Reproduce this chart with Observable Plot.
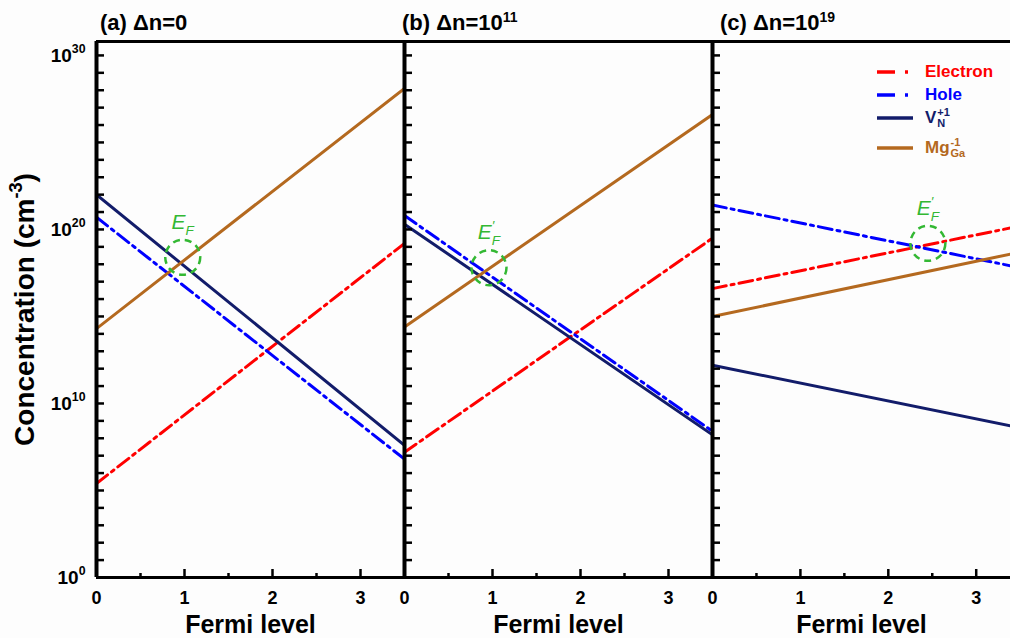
<!DOCTYPE html>
<html>
<head>
<meta charset="utf-8">
<script src="https://cdn.jsdelivr.net/npm/d3@7"></script>
<script src="https://cdn.jsdelivr.net/npm/@observablehq/plot@0.6"></script>
<style>
  body { margin: 0; background: #fdfdfd; font-family: "Liberation Sans", Arial, sans-serif; }
  #fig { position: relative; width: 1010px; height: 638px; overflow: hidden; }
  .panel { position: absolute; top: 0; }
  .title { position: absolute; top: 12px; font-size: 22px; line-height: 22px; font-weight: bold; color: #000; white-space: nowrap; }
  .title sup { font-size: 14px; vertical-align: 8px; line-height: 0; }
  .lrow { position: absolute; left: 877px; height: 20px; display: flex; align-items: center; font-size: 17px; line-height: 20px; font-weight: bold; white-space: nowrap; }
  .lrow svg { margin-right: 12px; }
  .stk { display: inline-flex; flex-direction: column; font-size: 11px; line-height: 11px; vertical-align: 7px; margin-left: 1px; }
</style>
</head>
<body>
<div id="fig"></div>
<script>
// ---------- data (log10 of concentration, cm^-3, at Fermi level 0 and 3.5) ----------
const fermi = [0, 3.5];
const electronA = [5.4, 19.2];
const holeA = [20.7, 6.8];
const vnA = [22.0, 7.6];
const mgA = [14.3, 28.1];
const electronB = [7.2, 19.5];
const holeB = [20.8, 8.4];
const vnB = [20.3, 8.2];
const mgB = [14.4, 26.6];
const electronC = [16.6, 20.2];
const holeC = [21.4, 17.8];
const vnC = [12.2, 8.6];
const mgC = [15.0, 18.7];
// E_F crossing marks: [Fermi level, log10 concentration]
const efA = [0.98, 18.4];
const efB = [0.96, 17.8];
const efC = [2.45, 19.2];
const efLabels = ["E_{F}", "E^{′}_{F}", "E^{′}_{F}"];
const panelTitles = ["(a) Δn=0", "(b) Δn=10<sup>11</sup>", "(c) Δn=10<sup>19</sup>"];
const xTicks = [0, 1, 2, 3];
const xMinorTicks = [0.5, 1.5, 2.5];
const yLabelExps = [0, 10, 20, 30];
const yTickExps = d3.range(0, 31);
const xMax = [3.5, 3.5, 3.39];
const yTopExp = 30.8;
const seriesNames = ["Electron", "Hole", "V<span class='stk'><span>+1</span><span>N</span></span>", "Mg<span class='stk'><span>-1</span><span>Ga</span></span>"];
const seriesColors = ["#ff0000", "#0000ff", "#121c6a", "#b4691f"];
const seriesDash = ["14,5,3,5", "14,5,3,5", null, null];
const green = "#33b833";

const panelData = [
  [electronA, holeA, vnA, mgA],
  [electronB, holeB, vnB, mgB],
  [electronC, holeC, vnC, mgC]
];
const efData = [efA, efB, efC];

// ---------- layout ----------
const layout = [
  {left: 0, width: 404, marginLeft: 96},
  {left: 404, width: 308, marginLeft: 0},
  {left: 712, width: 298, marginLeft: 0}
];
const H = 638, MT = 41, MB = 61;
const plotH = H - MT - MB;
const fig = document.getElementById("fig");

function richText(root) {
  root.querySelectorAll("text").forEach(el => {
    const t = el.textContent;
    if (!/[\^_]\{/.test(t)) return;
    while (el.firstChild) el.removeChild(el.firstChild);
    const re = /([\^_])\{([^}]*)\}|([^\^_]+)/g;
    let m, cur = 0, prev = null, prevScript = false;
    while ((m = re.exec(t))) {
      const ts = document.createElementNS("http://www.w3.org/2000/svg", "tspan");
      if (m[3]) {
        ts.textContent = m[3];
        if (cur) ts.setAttribute("dy", (-cur) + "em");
        cur = 0; prevScript = false;
      } else {
        const target = m[1] === "^" ? -0.45 : 0.28;
        ts.textContent = m[2];
        ts.setAttribute("font-size", "0.65em");
        ts.setAttribute("dy", ((target - cur) / 0.65) + "em");
        if (prevScript && prev) ts.setAttribute("dx", -prev.getComputedTextLength());
        cur = target; prevScript = true;
      }
      el.appendChild(ts); prev = ts;
    }
  });
}

panelData.forEach((series, p) => {
  const L = layout[p];
  const plotW = L.width - L.marginLeft;
  const marks = [];
  const yTop = 10 ** yTopExp;
  // frame lines
  marks.push(Plot.ruleY([1, yTop], {stroke: "black", strokeWidth: 3}));
  if (p < 2) marks.push(Plot.ruleX([xMax[p]], {stroke: "black", strokeWidth: 3}));
  // series
  series.forEach((vals, s) => {
    const rows = fermi.map((f, i) => ({x: f, y: 10 ** vals[i]}));
    marks.push(Plot.line(rows, {
      x: "x", y: "y", stroke: seriesColors[s], strokeWidth: 3,
      strokeDasharray: seriesDash[s], clip: true
    }));
  });
  // left axis and ticks
  marks.push(Plot.ruleX([0], {stroke: "black", strokeWidth: 4}));
  marks.push(Plot.tickY(yTickExps.map(e => 10 ** e), {y: d => d, insetRight: plotW - 8, stroke: "black", strokeWidth: 2.5}));
  marks.push(Plot.tickX(xTicks.filter(d => d > 0), {x: d => d, insetTop: plotH - 8, stroke: "black", strokeWidth: 2.5}));
  marks.push(Plot.tickX(xMinorTicks, {x: d => d, insetTop: plotH - 4, stroke: "black", strokeWidth: 2.5}));
  // x tick labels and title
  marks.push(Plot.text(xTicks, {x: d => d, frameAnchor: "bottom", lineAnchor: "middle", dy: 21, text: d => String(d), fontSize: 18, fontWeight: "bold", fill: "black"}));
  marks.push(Plot.text(["Fermi level"], {frameAnchor: "bottom", lineAnchor: "middle", textAnchor: "middle", dy: 47, text: d => d, fontSize: 25, fontWeight: "bold", fill: "black"}));
  // E_F mark
  const ef = efData[p];
  marks.push(Plot.dot([ef], {x: d => d[0], y: d => 10 ** d[1], r: 17.5, stroke: green, strokeWidth: 2.5, strokeDasharray: "7,5", fill: "none"}));
  marks.push(Plot.text([ef], {x: d => d[0], y: d => 10 ** d[1], dy: -35, text: () => efLabels[p], fontSize: 21, fontStyle: "italic", fill: green}));
  if (p === 0) {
    marks.push(Plot.text(yLabelExps, {y: d => 10 ** d, frameAnchor: "left", lineAnchor: "middle", dx: -11, textAnchor: "end", text: d => `10^{${d}}`, fontSize: 19, fontWeight: "bold", fill: "black"}));
    marks.push(Plot.text(["Concentration (cm^{-3})"], {frameAnchor: "left", textAnchor: "middle", lineAnchor: "middle", dx: -71, rotate: -90, text: d => d, fontSize: 28, fontWeight: "bold", fill: "black"}));
  }
  const chart = Plot.plot({
    width: L.width, height: H,
    marginLeft: L.marginLeft, marginRight: 0, marginTop: MT, marginBottom: MB,
    style: {background: "transparent", overflow: "visible", fontFamily: "Liberation Sans, Arial, sans-serif"},
    x: {domain: [0, xMax[p]], axis: null},
    y: {type: "log", domain: [1, yTop], axis: null},
    marks
  });
  chart.classList.add("panel");
  chart.style.left = L.left + "px";
  chart.style.position = "absolute";
  fig.appendChild(chart);
  richText(chart);
});

// panel titles
const titleLeft = [100, 402, 720];
panelTitles.forEach((t, i) => {
  const d = document.createElement("div");
  d.className = "title";
  d.style.left = titleLeft[i] + "px";
  d.innerHTML = t;
  fig.appendChild(d);
});

// legend
const legendY = [72, 95, 118, 148];
seriesNames.forEach((name, i) => {
  const row = document.createElement("div");
  row.className = "lrow";
  row.style.top = (legendY[i] - 10) + "px";
  row.style.color = seriesColors[i];
  const dash = i < 2 ? "18,10,3,10" : "none";
  row.innerHTML = `<svg width="36" height="6"><line x1="0" y1="3" x2="36" y2="3" stroke="${seriesColors[i]}" stroke-width="3.5" stroke-dasharray="${dash}"/></svg><span>${name}</span>`;
  fig.appendChild(row);
});
</script>
</body>
</html>
